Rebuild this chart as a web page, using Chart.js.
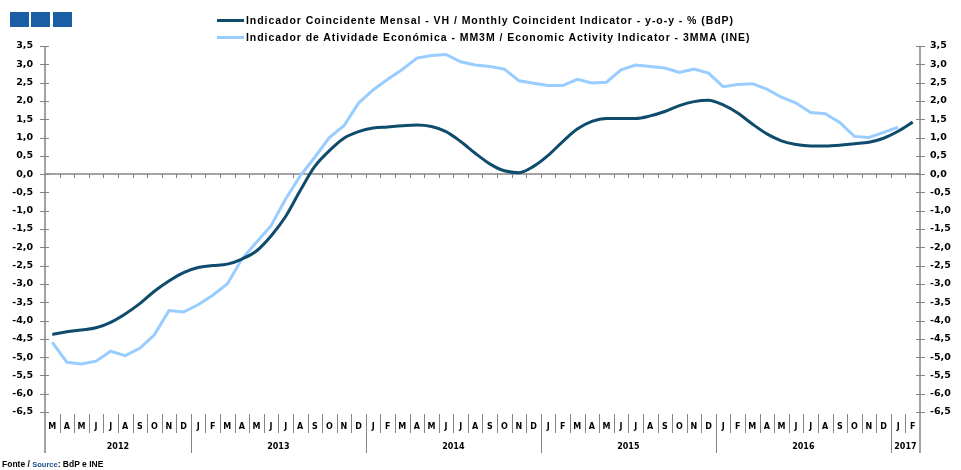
<!DOCTYPE html>
<html>
<head>
<meta charset="utf-8">
<script src="https://cdn.jsdelivr.net/npm/chart.js@4/dist/chart.umd.min.js"></script>
<style>
    html, body { margin: 0; padding: 0; background: #fff; }
    #wrap { position: relative; width: 961px; height: 470px; overflow: hidden; }
    #chart { position: absolute; left: 0; top: 0; }
    .sq { position: absolute; top: 12px; width: 19px; height: 15px; background: #1a5ea6; }
    .leg { position: absolute; left: 217px; font: bold 10.5px "Liberation Sans", Arial, sans-serif; letter-spacing: 0.95px; color: #000; white-space: nowrap; }
    .leg i { display: inline-block; width: 27px; height: 3px; margin-right: 2px; vertical-align: middle; position: relative; top: -1px; }
    #src { position: absolute; left: 2px; top: 459px; font: bold 8.5px "Liberation Sans", Arial, sans-serif; color: #000; white-space: nowrap; }
    #src span { color: #1f4e8c; font-size: 7.5px; }
</style>
</head>
<body>
<div id="wrap">
    <canvas id="chart" width="961" height="470"></canvas>
    <div class="sq" style="left:10px"></div>
    <div class="sq" style="left:31px"></div>
    <div class="sq" style="left:53px"></div>
    <div class="leg" style="top:14px"><i style="background:#0f4b6c"></i>Indicador Coincidente Mensal - VH / Monthly Coincident Indicator - y-o-y - % (BdP)</div>
    <div class="leg" style="top:31px"><i style="background:#99ccff"></i>Indicador de Atividade Económica - MM3M / Economic Activity Indicator - 3MMA (INE)</div>
    <div id="src">Fonte / <span>Source</span>: BdP e INE</div>
</div>
<script>
// Mar 2012 .. Feb 2017
const months = [
    'M','A','M','J','J','A','S','O','N','D',
    'J','F','M','A','M','J','J','A','S','O','N','D',
    'J','F','M','A','M','J','J','A','S','O','N','D',
    'J','F','M','A','M','J','J','A','S','O','N','D',
    'J','F','M','A','M','J','J','A','S','O','N','D',
    'J','F'
];
const years = ['2012', '2013', '2014', '2015', '2016', '2017'];
const yearStarts = [0, 10, 22, 34, 46, 58];

const coincident = [
    -4.38, -4.31, -4.26, -4.20, -4.05, -3.82, -3.54, -3.20, -2.92, -2.69,
    -2.55, -2.50, -2.46, -2.32, -2.10, -1.69, -1.16, -0.45, 0.21, 0.64, 0.98, 1.16,
    1.26, 1.29, 1.32, 1.34, 1.30, 1.16, 0.89, 0.57, 0.28, 0.09, 0.04, 0.21,
    0.51, 0.89, 1.23, 1.44, 1.52, 1.52, 1.52, 1.59, 1.71, 1.87, 1.98, 2.02,
    1.89, 1.67, 1.37, 1.10, 0.91, 0.81, 0.77, 0.77, 0.79, 0.83, 0.87, 0.98,
    1.17, 1.42
];
const activity = [
    -4.60, -5.14, -5.19, -5.11, -4.84, -4.96, -4.76, -4.39, -3.73, -3.77,
    -3.57, -3.31, -3.00, -2.32, -1.86, -1.41, -0.68, -0.05, 0.46, 1.00, 1.32, 1.94,
    2.30, 2.59, 2.86, 3.17, 3.24, 3.27, 3.07, 2.98, 2.94, 2.87, 2.55, 2.48,
    2.42, 2.42, 2.59, 2.49, 2.51, 2.85, 2.98, 2.94, 2.90, 2.78, 2.87, 2.76,
    2.39, 2.45, 2.47, 2.32, 2.10, 1.94, 1.68, 1.65, 1.41, 1.03, 1.00, 1.14,
    1.28, null
];
const yMin = -6.5, yMax = 3.5, yStep = 0.5;

const AXIS = '#858585';
const tickFont = { family: 'DejaVu Sans', size: 9.5, weight: 'bold' };
const fmt = v => v.toFixed(1).replace('.', ',');

// axis lines, crossing ticks, zero line and the month/year strip at the bottom
const axisDecor = {
    id: 'axisDecor',
    beforeDatasetsDraw(chart) {
        const { ctx, chartArea: a } = chart;
        const x = chart.scales.x, y = chart.scales.y;
        const step = x.getPixelForValue(1) - x.getPixelForValue(0);
        const edge = i => x.getPixelForValue(i) - step / 2;
        const top = y.getPixelForValue(yMax);
        const y0 = y.getPixelForValue(0);
        const yb = y.getPixelForValue(yMin);
        const monthBottom = yb + 21;
        const yearBottom = yb + 41;

        ctx.save();
        ctx.strokeStyle = AXIS;
        ctx.lineWidth = 1.5;
        ctx.beginPath();
        ctx.moveTo(a.left, top); ctx.lineTo(a.left, yearBottom);
        ctx.moveTo(a.right, top); ctx.lineTo(a.right, yearBottom);
        ctx.moveTo(a.left, y0); ctx.lineTo(a.right, y0);
        ctx.stroke();

        ctx.lineWidth = 1;
        ctx.beginPath();
        y.ticks.forEach(t => {
            const py = Math.round(y.getPixelForValue(t.value)) + 0.5;
            ctx.moveTo(a.left - 5, py); ctx.lineTo(a.left + 4, py);
            ctx.moveTo(a.right - 4, py); ctx.lineTo(a.right + 5, py);
        });
        for (let i = 1; i < months.length; i++) {
            const px = Math.round(edge(i)) + 0.5;
            ctx.moveTo(px, y0); ctx.lineTo(px, y0 + 4);
            const isYear = yearStarts.includes(i);
            ctx.moveTo(px, yb + 2); ctx.lineTo(px, isYear ? yearBottom : monthBottom);
        }
        ctx.stroke();

        ctx.fillStyle = '#000';
        ctx.textAlign = 'center';
        ctx.textBaseline = 'middle';
        ctx.font = 'bold 8px "DejaVu Sans"';
        months.forEach((m, i) => ctx.fillText(m, x.getPixelForValue(i), yb + 15));
        years.forEach((yr, k) => {
            const s = yearStarts[k];
            const e = k + 1 < yearStarts.length ? yearStarts[k + 1] : months.length;
            ctx.fillText(yr, (edge(s) + edge(e)) / 2, yb + 35);
        });
        ctx.restore();
    }
};

new Chart(document.getElementById('chart').getContext('2d'), {
    type: 'line',
    data: {
        labels: months,
        datasets: [
            {
                label: 'Indicador Coincidente Mensal - VH / Monthly Coincident Indicator - y-o-y - % (BdP)',
                data: coincident,
                borderColor: '#0f4b6c',
                borderWidth: 3,
                pointRadius: 0,
                cubicInterpolationMode: 'monotone',
                fill: false
            },
            {
                label: 'Indicador de Atividade Económica - MM3M / Economic Activity Indicator - 3MMA (INE)',
                data: activity,
                borderColor: '#99ccff',
                borderWidth: 3,
                pointRadius: 0,
                tension: 0,
                fill: false
            }
        ]
    },
    options: {
        responsive: false,
        animation: false,
        layout: { padding: { top: 46, bottom: 58, left: 0, right: 0 } },
        plugins: { legend: { display: false }, tooltip: { enabled: false } },
        scales: {
            x: {
                type: 'category',
                offset: true,
                display: false
            },
            y: {
                position: 'left',
                min: yMin, max: yMax,
                grid: { display: false, drawTicks: false },
                border: { display: false },
                ticks: { stepSize: yStep, padding: 12, color: '#000', font: tickFont, callback: v => fmt(v) },
                afterFit: s => { s.width = 45; }
            },
            y2: {
                position: 'right',
                min: yMin, max: yMax,
                grid: { display: false, drawTicks: false },
                border: { display: false },
                ticks: { stepSize: yStep, padding: 10, color: '#000', font: tickFont, callback: v => fmt(v) },
                afterFit: s => { s.width = 41; }
            }
        }
    },
    plugins: [axisDecor]
});
</script>
</body>
</html>
